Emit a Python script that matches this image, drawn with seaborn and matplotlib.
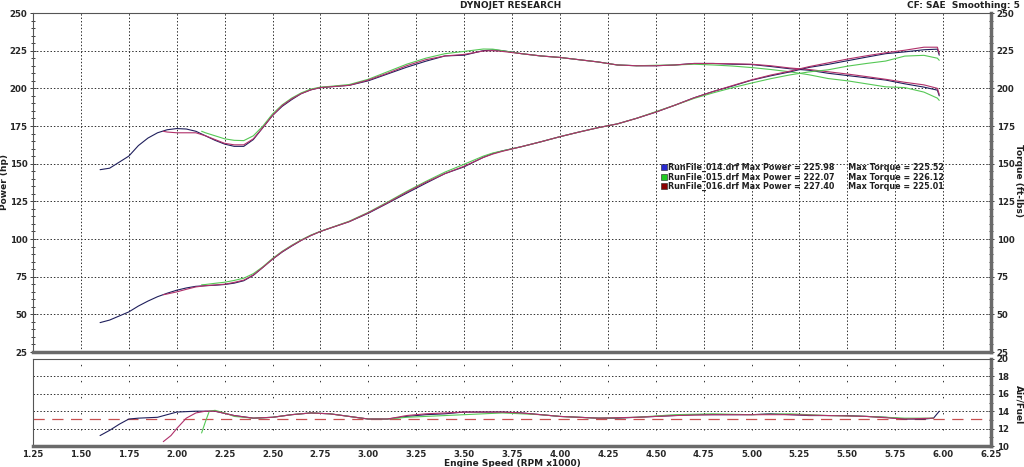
import pandas as pd
import numpy as np
import matplotlib.pyplot as plt
import seaborn as sns
from matplotlib.lines import Line2D
from matplotlib.ticker import MultipleLocator

sns.set_style("white")
plt.rcParams['font.family'] = ['DejaVu Sans']

# --- data ---
runs = ['RunFile_014.drf', 'RunFile_015.drf', 'RunFile_016.drf']
max_power = [225.98, 222.07, 227.40]
max_torque = [225.52, 226.12, 225.01]
run_colors = ['#1f1f5c', '#55c855', '#b0306a']
legend_colors = ['#2a2ad0', '#22cc22', '#8b0000']

rpm_014 = [1.60, 1.65, 1.70, 1.75, 1.80, 1.85, 1.90, 1.95, 2.00, 2.05, 2.10, 2.15, 2.20, 2.25,
           2.30, 2.35, 2.40, 2.45, 2.50, 2.55, 2.60, 2.65, 2.70, 2.75, 2.80, 2.90, 3.00, 3.10,
           3.20, 3.30, 3.40, 3.50, 3.60, 3.65, 3.70, 3.80, 3.90, 4.00, 4.10, 4.20, 4.30, 4.40,
           4.50, 4.60, 4.70, 4.80, 4.90, 5.00, 5.10, 5.20, 5.30, 5.40, 5.50, 5.60, 5.70, 5.80,
           5.90, 5.97, 5.98]
torque_014 = [146.0, 147.0, 151.0, 155.0, 162.0, 167.0, 170.5, 172.5, 173.3, 173.0, 171.5, 168.5,
              165.5, 163.0, 161.5, 161.5, 166.0, 174.0, 182.0, 188.0, 192.5, 196.5, 199.0, 200.5,
              201.0, 202.0, 205.0, 209.5, 214.0, 218.0, 221.5, 222.0, 225.0, 225.5, 225.0, 223.0,
              221.5, 220.5, 219.0, 217.5, 215.5, 215.0, 215.0, 215.5, 216.5, 216.5, 216.0, 215.8,
              214.5, 213.0, 212.0, 210.0, 208.5, 207.0, 205.5, 203.0, 200.8, 198.8, 195.0]
power_014 = [44.5, 46.2, 48.9, 51.6, 55.5, 58.8, 61.7, 64.0, 66.0, 67.5, 68.6, 69.0, 69.3, 69.8,
             70.7, 72.3, 75.9, 81.2, 86.6, 91.3, 95.3, 99.1, 102.3, 105.0, 107.2, 111.5, 117.1,
             123.7, 130.4, 137.0, 143.4, 147.9, 154.2, 156.7, 158.5, 161.3, 164.5, 167.9, 171.0,
             173.9, 176.4, 180.1, 184.2, 188.8, 193.7, 197.9, 201.5, 205.4, 208.3, 210.9, 213.9,
             215.9, 218.3, 220.7, 223.0, 224.2, 225.6, 226.0, 222.0]

rpm_015 = [2.13, 2.15, 2.20, 2.25, 2.30, 2.35, 2.40, 2.45, 2.50, 2.55, 2.60, 2.65, 2.70, 2.75,
           2.80, 2.90, 3.00, 3.10, 3.20, 3.30, 3.40, 3.50, 3.60, 3.65, 3.70, 3.80, 3.90, 4.00,
           4.10, 4.20, 4.30, 4.40, 4.50, 4.60, 4.70, 4.80, 4.90, 5.00, 5.10, 5.20, 5.30, 5.40,
           5.50, 5.60, 5.70, 5.80, 5.90, 5.97, 5.98]
torque_015 = [171.5, 170.5, 168.5, 166.5, 165.5, 165.3, 168.5, 175.0, 183.0, 189.0, 193.5, 197.0,
              199.5, 200.8, 201.3, 202.5, 206.0, 211.0, 216.0, 220.0, 223.0, 224.5, 226.1, 226.0,
              225.0, 223.0, 221.5, 220.5, 219.0, 217.5, 215.5, 215.0, 215.3, 215.5, 216.0, 215.5,
              214.8, 213.8, 212.5, 211.0, 209.0, 206.5, 205.0, 203.0, 201.0, 200.5, 197.5, 193.5,
              192.0]
power_015 = [69.6, 69.8, 70.6, 71.3, 72.5, 74.0, 77.0, 81.6, 87.1, 91.8, 95.8, 99.4, 102.6, 105.1,
             107.3, 111.8, 117.7, 124.5, 131.6, 138.2, 144.4, 149.6, 155.0, 157.1, 158.5, 161.3,
             164.5, 167.9, 171.0, 173.9, 176.4, 180.1, 184.5, 188.8, 193.3, 197.0, 200.4, 203.5,
             206.4, 208.9, 210.9, 212.3, 214.7, 216.5, 218.1, 221.4, 221.9, 220.0, 218.6]

rpm_016 = [1.93, 1.95, 2.00, 2.05, 2.10, 2.15, 2.20, 2.25, 2.30, 2.35, 2.40, 2.45, 2.50, 2.55,
           2.60, 2.65, 2.70, 2.75, 2.80, 2.90, 3.00, 3.10, 3.20, 3.30, 3.40, 3.50, 3.60, 3.65,
           3.70, 3.80, 3.90, 4.00, 4.10, 4.20, 4.30, 4.40, 4.50, 4.60, 4.70, 4.80, 4.90, 5.00,
           5.10, 5.20, 5.30, 5.40, 5.50, 5.60, 5.70, 5.80, 5.90, 5.97, 5.98]
torque_016 = [171.5, 171.0, 170.5, 170.5, 170.5, 168.5, 166.0, 163.5, 162.5, 162.5, 166.5, 174.0,
              182.0, 188.5, 193.0, 196.5, 199.0, 200.5, 201.0, 202.0, 205.5, 210.0, 215.0, 219.0,
              221.5, 222.5, 224.8, 225.0, 224.5, 223.0, 221.5, 220.5, 219.0, 217.5, 215.5, 215.0,
              215.0, 215.5, 216.5, 216.5, 216.3, 216.0, 215.0, 213.5, 212.5, 211.0, 209.5, 207.8,
              206.0, 204.0, 202.3, 200.0, 196.0]
power_016 = [63.0, 63.5, 64.9, 66.6, 68.2, 69.0, 69.5, 70.0, 71.2, 72.7, 76.1, 81.2, 86.6, 91.5,
             95.5, 99.1, 102.3, 105.0, 107.2, 111.5, 117.4, 124.0, 131.0, 137.6, 143.4, 148.3,
             154.1, 156.4, 158.2, 161.3, 164.5, 167.9, 171.0, 173.9, 176.4, 180.1, 184.2, 188.8,
             193.7, 197.9, 201.8, 205.6, 208.8, 211.4, 214.4, 216.9, 219.4, 221.6, 223.6, 225.3,
             227.3, 227.3, 223.2]

afr_rpm_014 = [1.60, 1.65, 1.70, 1.75, 1.80, 1.90, 2.00, 2.10, 2.20, 2.30, 2.40, 2.50, 2.60, 2.70,
               2.80, 2.90, 3.00, 3.10, 3.20, 3.30, 3.40, 3.50, 3.60, 3.70, 3.80, 3.90, 4.00, 4.10,
               4.20, 4.30, 4.40, 4.50, 4.60, 4.70, 4.80, 4.90, 5.00, 5.10, 5.20, 5.30, 5.40, 5.50,
               5.60, 5.70, 5.80, 5.90, 5.95, 5.98]
afr_014 = [11.2, 11.8, 12.5, 13.1, 13.2, 13.3, 13.9, 14.0, 14.0, 13.5, 13.2, 13.3, 13.6, 13.8,
           13.7, 13.4, 13.1, 13.1, 13.4, 13.6, 13.7, 13.9, 13.9, 13.9, 13.8, 13.6, 13.4, 13.3,
           13.2, 13.2, 13.3, 13.4, 13.5, 13.6, 13.6, 13.6, 13.6, 13.7, 13.6, 13.5, 13.5, 13.5,
           13.4, 13.3, 13.1, 13.1, 13.2, 14.0]
afr_rpm_015 = [2.13, 2.15, 2.17, 2.20, 2.25, 2.30, 2.40, 2.50, 2.60, 2.70, 2.80, 2.90, 3.00, 3.10,
               3.20, 3.30, 3.40, 3.50, 3.60, 3.70, 3.80, 3.90, 4.00, 4.20, 4.40, 4.60, 4.80, 5.00,
               5.20, 5.40, 5.60, 5.80, 5.95]
afr_015 = [11.5, 12.8, 14.0, 14.1, 13.8, 13.4, 13.2, 13.3, 13.6, 13.8, 13.7, 13.4, 13.1, 13.1,
           13.3, 13.4, 13.5, 13.6, 13.7, 13.8, 13.7, 13.6, 13.4, 13.2, 13.3, 13.6, 13.7, 13.6,
           13.7, 13.5, 13.4, 13.2, 13.2]
afr_rpm_016 = [1.93, 1.97, 2.00, 2.05, 2.10, 2.15, 2.20, 2.30, 2.40, 2.50, 2.60, 2.70, 2.80, 2.90,
               3.00, 3.10, 3.20, 3.30, 3.40, 3.50, 3.60, 3.70, 3.80, 3.90, 4.00, 4.20, 4.40, 4.60,
               4.80, 5.00, 5.20, 5.40, 5.60, 5.80, 5.95]
afr_016 = [10.5, 11.2, 12.0, 13.2, 13.8, 14.0, 14.0, 13.5, 13.2, 13.3, 13.6, 13.8, 13.7, 13.4,
           13.1, 13.1, 13.5, 13.7, 13.8, 13.9, 13.9, 13.9, 13.8, 13.6, 13.4, 13.2, 13.3, 13.5,
           13.6, 13.6, 13.6, 13.5, 13.4, 13.1, 13.2]
afr_target = 13.1

rpm_ticks = [1.25, 1.50, 1.75, 2.00, 2.25, 2.50, 2.75, 3.00, 3.25, 3.50, 3.75, 4.00, 4.25,
             4.50, 4.75, 5.00, 5.25, 5.50, 5.75, 6.00, 6.25]

# --- long tables for seaborn ---
dyno = pd.concat([
    pd.DataFrame({'rpm': rpm_014, 'torque': torque_014, 'power': power_014, 'run': runs[0]}),
    pd.DataFrame({'rpm': rpm_015, 'torque': torque_015, 'power': power_015, 'run': runs[1]}),
    pd.DataFrame({'rpm': rpm_016, 'torque': torque_016, 'power': power_016, 'run': runs[2]}),
])
afr = pd.concat([
    pd.DataFrame({'rpm': afr_rpm_014, 'afr': afr_014, 'run': runs[0]}),
    pd.DataFrame({'rpm': afr_rpm_015, 'afr': afr_015, 'run': runs[1]}),
    pd.DataFrame({'rpm': afr_rpm_016, 'afr': afr_016, 'run': runs[2]}),
])
palette = dict(zip(runs, run_colors))

fig = plt.figure(figsize=(10.24, 4.67), dpi=100)
ax = fig.add_axes([33 / 1024, 1 - 352 / 467, 958 / 1024, 339 / 467])
ax2 = fig.add_axes([33 / 1024, 1 - 446 / 467, 958 / 1024, 87 / 467])

lbl_font = dict(fontsize=6.5, fontweight='bold', color='#202020')
grid_kw = dict(color='#303030', linewidth=0.7, linestyle=(0, (1.5, 2)))

# top panel: torque and power
for col in ['torque', 'power']:
    sns.lineplot(data=dyno, x='rpm', y=col, hue='run', palette=palette, ax=ax,
                 sort=False, estimator=None, legend=False, linewidth=0.8)
ax.set_xlim(1.25, 6.25)
ax.set_ylim(25, 250)
ax.set_xticks(rpm_ticks)
ax.set_yticks(range(25, 251, 25))
ax.yaxis.set_minor_locator(MultipleLocator(5))
ax.grid(True, **grid_kw)
ax.tick_params(axis='x', bottom=False, labelbottom=False)
ax.tick_params(axis='y', which='both', left=True, right=True, labelleft=True, labelright=True,
               direction='inout', length=5, width=0.7, color='#404040', pad=1.5)
ax.tick_params(axis='y', which='minor', length=3)
for t in ax.get_yticklabels():
    t.set_fontsize(6.2)
    t.set_fontweight('bold')
ax.set_xlabel('')
ax.set_ylabel('')

# bottom panel: air/fuel
sns.lineplot(data=afr, x='rpm', y='afr', hue='run', palette=palette, ax=ax2,
             sort=False, estimator=None, legend=False, linewidth=0.8)
ax2.axhline(afr_target, color='#c85050', linewidth=0.9, linestyle=(0, (9, 6)), zorder=1)
ax2.set_xlim(1.25, 6.25)
ax2.set_ylim(10, 20)
ax2.set_xticks(rpm_ticks)
ax2.set_xticklabels([f'{v:.2f}' for v in rpm_ticks])
ax2.xaxis.set_minor_locator(MultipleLocator(0.05))
ax2.set_yticks(range(10, 21, 2))
ax2.yaxis.set_minor_locator(MultipleLocator(1))
ax2.grid(True, axis='y', **grid_kw)
ax2.grid(True, axis='x', color='#303030', linewidth=0.7, linestyle=(0, (1.5, 15)))
ax2.tick_params(axis='x', which='both', direction='inout', length=4, width=0.6, color='#404040',
                labelsize=6.2, pad=1)
ax2.tick_params(axis='y', which='both', left=False, right=True, labelleft=False,
                labelright=True, direction='inout', length=5, width=0.7, color='#404040',
                labelsize=6.2, pad=1.5)
ax2.tick_params(axis='y', which='minor', length=3)
for t in ax2.get_xticklabels() + ax2.get_yticklabels():
    t.set_fontweight('bold')
ax2.set_xlabel('')
ax2.set_ylabel('')

for a in (ax, ax2):
    a.set_facecolor('white')
    a.spines['left'].set_color('#555555')
    a.spines['top'].set_color('#555555')
    a.spines['left'].set_linewidth(0.8)
    a.spines['top'].set_linewidth(0.8)
    a.spines['right'].set_color('#6a6a6a')
    a.spines['bottom'].set_color('#6a6a6a')
    a.spines['right'].set_linewidth(2.5)
    a.spines['bottom'].set_linewidth(2.5)

# legend
handles = [Line2D([], [], linestyle='', marker='s', markersize=5, markerfacecolor=c,
                  markeredgecolor='#202020', markeredgewidth=0.4) for c in legend_colors]
labels = [f'{r} Max Power = {p:.2f}     Max Torque = {t:.2f}'
          for r, p, t in zip(runs, max_power, max_torque)]
leg = ax.legend(handles, labels, loc='upper left', bbox_to_anchor=(658 / 1024, 1 - 159 / 467),
                bbox_transform=fig.transFigure, frameon=False, fontsize=5.8,
                handlelength=0.5, handletextpad=0.3, labelspacing=0.05, borderpad=0)
for t in leg.get_texts():
    t.set_fontweight('bold')
    t.set_color('#202020')

# titles and axis names
fig.text(511 / 1024, 1 - 6 / 467, 'DYNOJET RESEARCH', ha='center', va='center', **lbl_font)
fig.text(1020 / 1024, 1 - 6 / 467, 'CF: SAE  Smoothing: 5', ha='right', va='center', **lbl_font)
fig.text(5 / 1024, 1 - 182 / 467, 'Power (hp)', rotation=90, ha='center', va='center', **lbl_font)
fig.text(1019 / 1024, 1 - 180 / 467, 'Torque (ft-lbs)', rotation=-90, ha='center', va='center',
         **lbl_font)
fig.text(1019 / 1024, 1 - 405 / 467, 'Air/Fuel', rotation=-90, ha='center', va='center',
         **lbl_font)
fig.text(512 / 1024, 1 - 463 / 467, 'Engine Speed (RPM x1000)', ha='center', va='center',
         **lbl_font)

fig.savefig('out.png', dpi=100, facecolor='white')
